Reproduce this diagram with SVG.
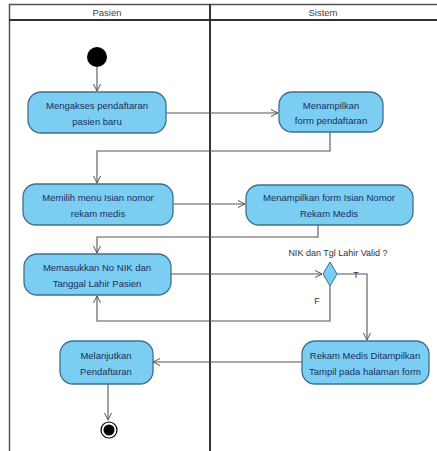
<svg xmlns="http://www.w3.org/2000/svg" width="437" height="451" viewBox="0 0 437 451">
<style>
.act rect{fill:#7ccdf2;stroke:#3d6f92;stroke-width:1.3}
.act text{font-family:"Liberation Sans",Arial,sans-serif;font-size:9.5px;fill:#1a2f5a;text-anchor:middle}
.hdr{font-family:"Liberation Sans",Arial,sans-serif;font-size:9.5px;fill:#444;text-anchor:middle}
.lbl{font-family:"Liberation Sans",Arial,sans-serif;font-size:9px;fill:#333;text-anchor:middle}
.c{fill:none;stroke:#555;stroke-width:1.1;marker-end:url(#ah)}
</style>
<defs>
<marker id="ah" markerWidth="10" markerHeight="10" refX="8" refY="5" orient="auto" markerUnits="userSpaceOnUse">
<path d="M1,1.5 L8,5 L1,8.5" fill="none" stroke="#555" stroke-width="1"/>
</marker>
</defs>
<rect width="437" height="451" fill="#fff"/>
<g id="swimlanes">
<path d="M9.5,451 V4.5 H437" fill="none" stroke="#555" stroke-width="1.5"/>
<line x1="9" y1="20" x2="437" y2="20" stroke="#333" stroke-width="2"/>
<line x1="210" y1="4" x2="210" y2="451" stroke="#333" stroke-width="2"/>
<text class="hdr" x="107" y="16">Pasien</text>
<text class="hdr" x="323" y="16">Sistem</text>
</g>
<g id="connectors">
<path class="c" d="M97,67 V91"/>
<path class="c" d="M166,113 H278"/>
<path class="c" d="M330,132 V151 H97 V183"/>
<path class="c" d="M173,204 H245"/>
<path class="c" d="M318,225 V237 H97 V253"/>
<path class="c" d="M171,274 H322"/>
<path class="c" d="M330,286 V321 H97 V296"/>
<path class="c" d="M337,274 H367 V340"/>
<path class="c" d="M302,362 H153"/>
<path class="c" d="M108,384 V420"/>
</g>
<g id="start"><circle cx="97" cy="57" r="10" fill="#000"/></g>
<g id="n1" class="act"><rect x="28" y="92" width="138" height="41" rx="13"/><text x="97" y="109">Mengakses pendaftaran</text><text x="97" y="125">pasien baru</text></g>
<g id="n2" class="act"><rect x="279" y="92" width="104" height="40" rx="13"/><text x="331" y="109">Menampilkan</text><text x="331" y="124">form pendaftaran</text></g>
<g id="n3" class="act"><rect x="23" y="184" width="150" height="41" rx="13"/><text x="98" y="201">Memilih menu Isian nomor</text><text x="98" y="217">rekam medis</text></g>
<g id="n4" class="act"><rect x="246" y="185" width="167" height="40" rx="13"/><text x="329" y="201">Menampilkan form Isian Nomor</text><text x="329" y="217">Rekam Medis</text></g>
<g id="n5" class="act"><rect x="24" y="254" width="147" height="41" rx="13"/><text x="97" y="271">Memasukkan No NIK dan</text><text x="97" y="287">Tanggal Lahir Pasien</text></g>
<g id="decision">
<path d="M330,262 L337,274 L330,286 L323,274 Z" fill="#7ccdf2" stroke="#3d6f92" stroke-width="1"/>
<text class="lbl" x="338" y="256">NIK dan Tgl Lahir Valid ?</text>
<text class="lbl" x="356" y="278">T</text>
<text class="lbl" x="317" y="304">F</text>
</g>
<g id="n6" class="act"><rect x="302" y="341" width="127" height="43" rx="13"/><text x="365" y="359">Rekam Medis Ditampilkan</text><text x="365" y="375">Tampil pada halaman form</text></g>
<g id="n7" class="act"><rect x="60" y="341" width="93" height="43" rx="13"/><text x="106" y="359">Melanjutkan</text><text x="106" y="375">Pendaftaran</text></g>
<g id="end"><circle cx="109" cy="430" r="8" fill="#fff" stroke="#000" stroke-width="1.2"/><circle cx="109" cy="430" r="5.5" fill="#000"/></g>
</svg>
